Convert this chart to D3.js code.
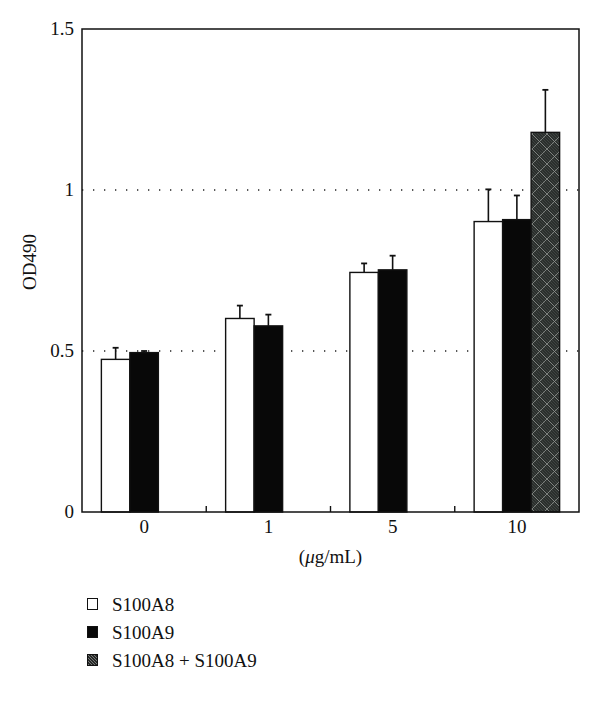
<!DOCTYPE html>
<html>
<head>
<meta charset="utf-8">
<script src="https://cdn.jsdelivr.net/npm/d3@7"></script>
<style>
  body { margin: 0; background: #fff; }
</style>
</head>
<body>
<div id="chart"></div>
<script>
// data
const doses = ["0", "1", "5", "10"];
const seriesNames = ["S100A8", "S100A9", "S100A8 + S100A9"];
const s100a8 = [0.474, 0.601, 0.744, 0.902];
const s100a8Err = [0.036, 0.040, 0.028, 0.100];
const s100a9 = [0.495, 0.578, 0.752, 0.908];
const s100a9Err = [0.005, 0.035, 0.044, 0.075];
const combo = [null, null, null, 1.179];
const comboErr = [null, null, null, 0.132];
const yTicks = [0, 0.5, 1, 1.5];
const gridValues = [0.5, 1];

const FONT = "'Liberation Serif', 'Times New Roman', 'DejaVu Serif', serif";
const FS = 19;

const width = 600, height = 706;
const margin = {top: 29, right: 21, bottom: 194, left: 82};
const plotW = width - margin.left - margin.right;
const plotH = height - margin.top - margin.bottom;

const svg = d3.select("#chart").append("svg")
    .attr("width", width)
    .attr("height", height)
    .attr("font-family", FONT);

svg.append("rect").attr("width", width).attr("height", height).attr("fill", "#fff");

// hatch pattern for the combined bar
const defs = svg.append("defs");
const pat = defs.append("pattern")
    .attr("id", "hatch")
    .attr("patternUnits", "userSpaceOnUse")
    .attr("width", 15).attr("height", 15);
pat.append("rect").attr("width", 15).attr("height", 15).attr("fill", "#2b2f2d");
for (let k = -15; k <= 15; k += 3) {
    pat.append("path")
        .attr("d", `M${k},0 L${k + 15},15`)
        .attr("stroke", "#434745").attr("stroke-width", 0.8);
}
pat.append("path")
    .attr("d", "M0,0 L15,15 M15,0 L0,15")
    .attr("stroke", "#8f9391").attr("stroke-width", 0.8);

const legPat = defs.append("pattern")
    .attr("id", "hatchLegend")
    .attr("patternUnits", "userSpaceOnUse")
    .attr("width", 3).attr("height", 3);
legPat.append("rect").attr("width", 3).attr("height", 3).attr("fill", "#262827");
legPat.append("path").attr("d", "M0,0 L3,3").attr("stroke", "#8a8d8b").attr("stroke-width", 0.8);

const g = svg.append("g").attr("transform", `translate(${margin.left},${margin.top})`);

const x0 = d3.scaleBand().domain(doses).range([0, plotW]).padding(0);
const x1 = d3.scaleBand().domain(seriesNames).range([0, x0.bandwidth()])
    .paddingInner(0).paddingOuter(0.68);
const y = d3.scaleLinear().domain([0, 1.5]).range([plotH, 0]);

// dotted gridlines
g.selectAll(".grid").data(gridValues).enter().append("line")
    .attr("x1", 0).attr("x2", plotW)
    .attr("y1", d => y(d)).attr("y2", d => y(d))
    .attr("stroke", "#222").attr("stroke-width", 1.3)
    .attr("stroke-dasharray", "1.3,9.7");

// build rows
const fills = {"S100A8": "#fff", "S100A9": "#080808", "S100A8 + S100A9": "url(#hatch)"};
const rows = [];
doses.forEach((dose, i) => {
    rows.push({dose, name: "S100A8", v: s100a8[i], e: s100a8Err[i]});
    rows.push({dose, name: "S100A9", v: s100a9[i], e: s100a9Err[i]});
    if (combo[i] != null) rows.push({dose, name: "S100A8 + S100A9", v: combo[i], e: comboErr[i]});
});

// error bars (drawn first so bar outline sits on top)
const eb = g.selectAll(".err").data(rows).enter().append("g");
eb.append("line")
    .attr("x1", d => x0(d.dose) + x1(d.name) + x1.bandwidth() / 2)
    .attr("x2", d => x0(d.dose) + x1(d.name) + x1.bandwidth() / 2)
    .attr("y1", d => y(d.v)).attr("y2", d => y(d.v + d.e))
    .attr("stroke", "#111").attr("stroke-width", 1.6);
eb.append("line")
    .attr("x1", d => x0(d.dose) + x1(d.name) + x1.bandwidth() / 2 - 3)
    .attr("x2", d => x0(d.dose) + x1(d.name) + x1.bandwidth() / 2 + 3)
    .attr("y1", d => y(d.v + d.e)).attr("y2", d => y(d.v + d.e))
    .attr("stroke", "#111").attr("stroke-width", 1.8);

g.selectAll(".bar").data(rows).enter().append("rect")
    .attr("x", d => x0(d.dose) + x1(d.name))
    .attr("y", d => y(d.v))
    .attr("width", x1.bandwidth())
    .attr("height", d => plotH - y(d.v))
    .attr("fill", d => fills[d.name])
    .attr("stroke", "#111").attr("stroke-width", 1.4);

// frame
g.append("rect")
    .attr("width", plotW).attr("height", plotH)
    .attr("fill", "none").attr("stroke", "#111").attr("stroke-width", 1.5);

// x ticks at group boundaries (inside)
g.selectAll(".xt").data(doses.slice(1)).enter().append("line")
    .attr("x1", d => x0(d)).attr("x2", d => x0(d))
    .attr("y1", plotH).attr("y2", plotH - 6)
    .attr("stroke", "#111").attr("stroke-width", 1.4);

// x labels
g.selectAll(".xl").data(doses).enter().append("text")
    .attr("x", d => x0(d) + x0.bandwidth() / 2)
    .attr("y", plotH + 21)
    .attr("text-anchor", "middle")
    .attr("font-size", FS).attr("fill", "#111")
    .text(d => d);

// y labels
g.selectAll(".yl").data(yTicks).enter().append("text")
    .attr("x", -8)
    .attr("y", d => y(d) + 6)
    .attr("text-anchor", "end")
    .attr("font-size", FS).attr("fill", "#111")
    .text(d => d);

// axis titles
const xt = g.append("text")
    .attr("x", plotW / 2)
    .attr("y", plotH + 51)
    .attr("text-anchor", "middle")
    .attr("font-size", FS).attr("fill", "#111");
xt.append("tspan").text("(");
xt.append("tspan").attr("font-style", "italic").text("μ");
xt.append("tspan").text("g/mL)");

svg.append("text")
    .attr("transform", "translate(36,262) rotate(-90)")
    .attr("text-anchor", "middle")
    .attr("font-size", FS).attr("fill", "#111")
    .text("OD490");

// legend
const legFills = ["#fff", "#080808", "url(#hatchLegend)"];
const leg = svg.append("g").attr("transform", "translate(87,598)");
seriesNames.forEach((name, i) => {
    const row = leg.append("g").attr("transform", `translate(0,${i * 28})`);
    row.append("rect")
        .attr("x", 0.5).attr("y", 0.5)
        .attr("width", 10).attr("height", 11)
        .attr("fill", legFills[i]).attr("stroke", "#111").attr("stroke-width", 1);
    row.append("text")
        .attr("x", 25).attr("y", 12.5)
        .attr("font-size", FS).attr("fill", "#111")
        .text(name);
});
</script>
</body>
</html>
